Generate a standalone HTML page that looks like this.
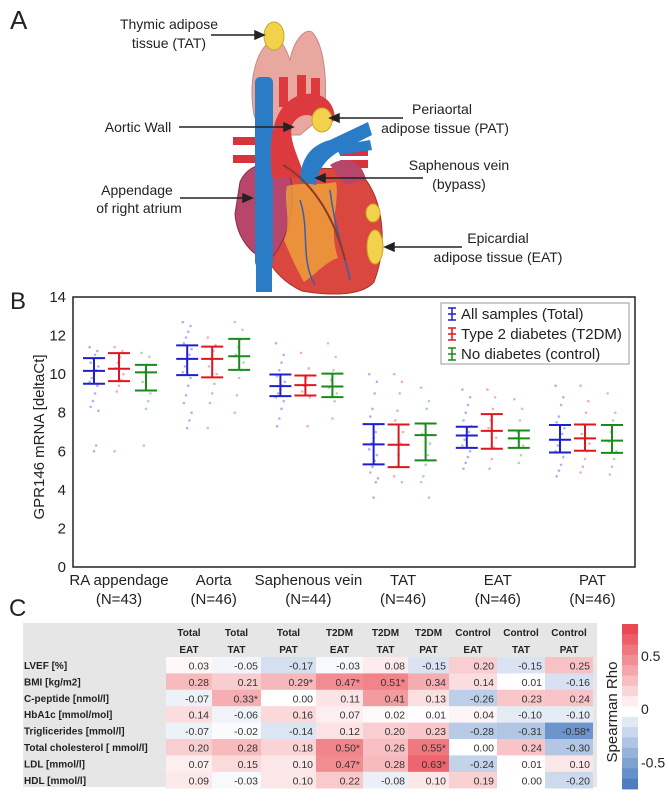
<!DOCTYPE html>
<html><head><meta charset="utf-8">
<style>
html,body{margin:0;padding:0;background:#fff;}
body{width:669px;height:804px;overflow:hidden;font-family:"Liberation Sans",Arial,sans-serif;}
svg{display:block;}
</style></head>
<body>
<svg id="fig" width="669" height="804" viewBox="0 0 669 804" xmlns="http://www.w3.org/2000/svg" font-family="Liberation Sans, Arial, sans-serif">
<!-- Panel A -->
<g>
  <text x="10" y="29" font-size="26" fill="#222">A</text>
  <path d="M254,115 C248,80 256,50 272,40 C282,35 288,55 290,60 C294,40 305,28 312,32 C324,45 328,80 324,115 L300,135 L262,135 Z" fill="#e8a8a0" stroke="#c98880" stroke-width="1"/>
  <rect x="233" y="137" width="30" height="8" fill="#d8323a"/>
  <rect x="233" y="155" width="30" height="8" fill="#d8323a"/>
  <rect x="340" y="148" width="28" height="8" fill="#d8323a"/>
  <rect x="340" y="160" width="28" height="8" fill="#d8323a"/>
  <path d="M258,185 C280,168 335,163 362,175 C384,200 388,245 374,282 C362,296 330,296 302,291 C280,281 266,262 258,240 Z" fill="#d9473f" stroke="#a9302c" stroke-width="1"/>
  <path d="M240,182 C250,158 282,160 291,180 C296,212 286,242 270,260 C254,258 237,240 235,214 Z" fill="#b8456a" stroke="#8a2c4a" stroke-width="1"/>
  <path d="M330,165 C345,155 362,160 366,180 L345,185 Z" fill="#b8456a"/>
  <path d="M287,186 C300,182 318,186 336,182 C340,200 328,230 338,258 C325,262 314,276 304,282 C296,268 288,250 284,240 C292,220 283,202 287,186 Z" fill="#f2a93b" opacity="0.75"/>
  <path d="M300,200 C310,230 300,260 315,285 M330,190 C335,230 345,255 350,280" stroke="#3a5fa8" stroke-width="1.5" fill="none"/>
  <rect x="255" y="77" width="18" height="190" rx="5" fill="#2a7cc7"/>
  <rect x="256" y="250" width="16" height="42" fill="#2a7cc7"/>
  <path d="M272,178 C268,140 272,105 300,95 C320,90 335,100 335,120 L322,130 C318,112 300,110 292,125 C288,140 300,160 305,178 Z" fill="#dc3a3e"/>
  <rect x="279" y="77" width="9" height="30" fill="#dc3a3e"/>
  <rect x="297" y="75" width="9" height="30" fill="#dc3a3e"/>
  <rect x="311" y="78" width="9" height="30" fill="#dc3a3e"/>
  <path d="M300,182 C300,160 310,145 330,140 L368,122 L372,135 L338,152 C325,160 318,170 316,185 Z" fill="#2a7cc7"/>
  <path d="M335,146 L370,140 L372,150 L340,155 Z" fill="#2a7cc7"/>
  <path d="M283,165 C300,175 330,200 345,260" stroke="#8a3a2a" stroke-width="2" fill="none"/>
  <ellipse cx="274" cy="36" rx="10" ry="14" fill="#f1d24a" stroke="#c9a820"/>
  <ellipse cx="322" cy="120" rx="10" ry="12" fill="#f1d24a" stroke="#c9a820"/>
  <ellipse cx="373" cy="213" rx="7" ry="9" fill="#f1d24a" stroke="#c9a820"/>
  <ellipse cx="375" cy="247" rx="8" ry="17" fill="#f1d24a" stroke="#c9a820"/>
  <g font-size="14" fill="#222" text-anchor="middle">
    <text x="169" y="29">Thymic adipose</text>
    <text x="169" y="48">tissue (TAT)</text>
    <text x="138" y="132">Aortic Wall</text>
    <text x="442" y="114">Periaortal</text>
    <text x="445" y="133">adipose tissue (PAT)</text>
    <text x="459" y="170">Saphenous vein</text>
    <text x="459" y="189">(bypass)</text>
    <text x="137" y="195">Appendage</text>
    <text x="139" y="213">of right atrium</text>
    <text x="498" y="243">Epicardial</text>
    <text x="498" y="262">adipose tissue (EAT)</text>
  </g>
  <g stroke="#222" stroke-width="1.5" fill="#222">
    <line x1="211" y1="35" x2="257" y2="35"/><polygon points="264,35 255,31 255,39"/>
    <line x1="179" y1="127" x2="286" y2="127"/><polygon points="293,127 284,123 284,131"/>
    <line x1="403" y1="118" x2="337" y2="118"/><polygon points="330,118 339,114 339,122"/>
    <line x1="423" y1="178" x2="323" y2="178"/><polygon points="316,178 325,174 325,182"/>
    <line x1="180" y1="198" x2="245" y2="198"/><polygon points="252,198 243,194 243,202"/>
    <line x1="462" y1="247" x2="392" y2="247"/><polygon points="385,247 394,243 394,251"/>
  </g>
</g>
<g id="panelB"></g>
<g id="panelC"></g>
</svg>
<script>
// ---------- Panel B data ----------
const categories = ["RA appendage","Aorta","Saphenous vein","TAT","EAT","PAT"];
const nLabels = ["(N=43)","(N=46)","(N=44)","(N=46)","(N=46)","(N=46)"];
const seriesNames = ["All samples (Total)","Type 2 diabetes (T2DM)","No diabetes (control)"];
const seriesColors = ["#1f1fd0","#e0161e","#1a8a1a"];
const totalMean  = [10.17,10.79,9.38,6.36,6.82,6.60];
const totalLow   = [9.50,9.95,8.86,5.32,6.18,5.94];
const totalHigh  = [10.83,11.49,9.98,7.41,7.27,7.36];
const t2dmMean   = [10.28,10.79,9.43,6.34,7.06,6.67];
const t2dmLow    = [9.64,9.83,8.89,5.18,6.13,6.03];
const t2dmHigh   = [11.09,11.43,9.93,7.39,7.93,7.39];
const ctrlMean   = [10.09,10.93,9.36,6.84,6.67,6.55];
const ctrlLow    = [9.15,10.22,8.81,5.53,6.18,5.92];
const ctrlHigh   = [10.48,11.83,10.03,7.44,7.08,7.36];
const totalPoints = [
 [11.4,11.2,11.0,10.8,10.6,10.4,10.2,10.0,9.8,9.6,9.4,9.0,8.6,8.3,8.1,6.3,6.0],
 [12.7,12.5,12.2,11.9,11.6,11.3,11.0,10.7,10.4,10.1,9.8,9.4,8.9,8.5,8.0,7.6,7.2],
 [11.6,11.0,10.6,10.2,9.9,9.6,9.4,9.2,9.0,8.8,8.6,8.2,7.7,7.3],
 [10.0,9.6,9.0,8.2,7.8,7.4,7.0,6.7,6.4,6.1,5.8,5.5,5.2,4.9,4.6,4.4,3.6],
 [9.2,8.8,8.4,8.0,7.6,7.3,7.0,6.8,6.6,6.3,6.0,5.7,5.4,5.1],
 [9.4,8.8,8.4,7.8,7.5,7.2,6.9,6.6,6.3,6.0,5.7,5.3,5.0,4.7]
];
const t2dmPoints = [
 [11.4,11.2,10.9,10.6,10.3,10.0,9.7,9.4,9.1,6.0],
 [11.9,11.5,11.2,10.8,10.4,10.0,9.5,9.0,8.5,7.2],
 [11.1,10.3,9.8,9.4,9.1,8.8,7.3],
 [10.0,9.6,9.0,8.1,7.6,7.0,6.4,5.8,5.2,4.7,4.4],
 [9.2,8.8,8.2,7.6,7.2,6.7,6.2,5.6,5.1],
 [9.4,8.6,8.0,7.4,6.9,6.4,6.0,5.6,5.2,4.9]
];
const ctrlPoints = [
 [11.1,10.9,10.5,10.1,9.6,9.0,8.6,8.2,6.3],
 [12.7,12.3,11.8,11.4,11.0,10.6,10.2,9.8,8.9,8.0],
 [11.6,10.9,10.2,9.7,9.3,9.0,8.6,7.7],
 [9.3,8.6,8.2,7.4,6.9,6.4,5.8,5.3,4.7,4.4,3.6],
 [8.7,8.2,7.6,7.0,6.7,6.3,5.8,5.4],
 [9.0,8.0,7.6,7.0,6.5,6.0,5.6,5.2,4.8]
];
const yTicks = [0,2,4,6,8,10,12,14];

// ---------- Panel C data ----------
const hmCols1 = ["Total","Total","Total","T2DM","T2DM","T2DM","Control","Control","Control"];
const hmCols2 = ["EAT","TAT","PAT","EAT","TAT","PAT","EAT","TAT","PAT"];
const hmRows = ["LVEF [%]","BMI [kg/m2]","C-peptide [nmol/l]","HbA1c [mmol/mol]","Triglicerides [mmol/l]","Total cholesterol [ mmol/l]","LDL [mmol/l]","HDL [mmol/l]"];
const rhoLVEF = [0.03,-0.05,-0.17,-0.03,0.08,-0.15,0.20,-0.15,0.25];
const rhoBMI = [0.28,0.21,0.29,0.47,0.51,0.34,0.14,0.01,-0.16];
const rhoCpep = [-0.07,0.33,0.00,0.11,0.41,0.13,-0.26,0.23,0.24];
const rhoHbA1c = [0.14,-0.06,0.16,0.07,0.02,0.01,0.04,-0.10,-0.10];
const rhoTrig = [-0.07,-0.02,-0.14,0.12,0.20,0.23,-0.28,-0.31,-0.58];
const rhoTChol = [0.20,0.28,0.18,0.50,0.26,0.55,0.00,0.24,-0.30];
const rhoLDL = [0.07,0.15,0.10,0.47,0.28,0.63,-0.24,0.01,0.10];
const rhoHDL = [0.09,-0.03,0.10,0.22,-0.08,0.10,0.19,0.00,-0.20];
const sigLVEF = [0,0,0,0,0,0,0,0,0];
const sigBMI = [0,0,1,1,1,0,0,0,0];
const sigCpep = [0,1,0,0,0,0,0,0,0];
const sigHbA1c = [0,0,0,0,0,0,0,0,0];
const sigTrig = [0,0,0,0,0,0,0,0,1];
const sigTChol = [0,0,0,1,0,1,0,0,0];
const sigLDL = [0,0,0,1,0,1,0,0,0];
const sigHDL = [0,0,0,0,0,0,0,0,0];
const colorbarTicks = [0.5,0,-0.5];

const NS = "http://www.w3.org/2000/svg";
function mk(tag, attrs, parent){ const e=document.createElementNS(NS,tag); for(const k in attrs) e.setAttribute(k,attrs[k]); parent.appendChild(e); return e; }

// ---------- Panel B ----------
(function(){
const g = document.getElementById("panelB");
const L=73, R=635, T=297, B=567, yMax=14;
const y = v => B - (v/yMax)*(B-T);
const xCenter = i => 119 + i*93.2;
const offs = [-25,0,27];
const t = mk("text",{x:10,y:309,"font-size":24,fill:"#222"},g); t.textContent="B";


yTicks.forEach(v=>{
  const tx=mk("text",{x:66,y:y(v)+5,"font-size":15,"text-anchor":"end",fill:"#222"},g); tx.textContent=v;
  
  
});
const yt=mk("text",{x:0,y:0,"font-size":15,"text-anchor":"middle",fill:"#222",transform:"translate(44,437) rotate(-90)"},g);
yt.textContent="GPR146 mRNA [deltaCt]";


categories.forEach((c,i)=>{
  const a=mk("text",{x:xCenter(i)+i*1.5,y:585,"font-size":15,"text-anchor":"middle",fill:"#222"},g); a.textContent=c;
  
  
  const b=mk("text",{x:xCenter(i)+i*1.5,y:604,"font-size":15,"text-anchor":"middle",fill:"#222"},g); b.textContent=nLabels[i];
  
  
});
const means=[totalMean,t2dmMean,ctrlMean], lows=[totalLow,t2dmLow,ctrlLow], highs=[totalHigh,t2dmHigh,ctrlHigh], pts=[totalPoints,t2dmPoints,ctrlPoints];
for(let s=0;s<3;s++){
  for(let i=0;i<categories.length;i++){
    const cx=xCenter(i)+offs[s];
    pts[s][i].forEach((v,k)=>{
      const jx = ((k*7)%9 - 4)*1.1;
      const p=mk("circle",{cx:cx+jx,cy:y(v),r:1.3,fill:seriesColors[s],opacity:0.35},g);
      
      
    });
    const eg=mk("g",{stroke:seriesColors[s],"stroke-width":2},g);
    
    
    mk("line",{x1:cx,x2:cx,y1:y(lows[s][i]),y2:y(highs[s][i])},eg);
    mk("line",{x1:cx-11,x2:cx+11,y1:y(lows[s][i]),y2:y(lows[s][i])},eg);
    mk("line",{x1:cx-11,x2:cx+11,y1:y(highs[s][i]),y2:y(highs[s][i])},eg);
    mk("line",{x1:cx-11,x2:cx+11,y1:y(means[s][i]),y2:y(means[s][i])},eg);
  }
}
const fr=mk("rect",{x:L,y:T,width:R-L,height:B-T,fill:"none",stroke:"#222","stroke-width":1.5},g);


const lg=mk("g",{},g);


mk("rect",{x:441,y:303,width:188,height:61,fill:"#fff",stroke:"#999","stroke-width":1},lg);
seriesNames.forEach((n,k)=>{
  const yy=314+k*20;
  const e=mk("g",{stroke:seriesColors[k],"stroke-width":1.5},lg);
  
  
  mk("line",{x1:452,x2:452,y1:yy-6,y2:yy+6},e);
  mk("line",{x1:448,x2:456,y1:yy-6,y2:yy-6},e);
  mk("line",{x1:448,x2:456,y1:yy+6,y2:yy+6},e);
  mk("line",{x1:448,x2:456,y1:yy,y2:yy},e);
  const tx=mk("text",{x:461,y:yy+5,"font-size":15,fill:"#222"},lg); tx.textContent=n;
  
  
});
})();

// ---------- Panel C ----------
(function(){
const g=document.getElementById("panelC");
const rho=[rhoLVEF,rhoBMI,rhoCpep,rhoHbA1c,rhoTrig,rhoTChol,rhoLDL,rhoHDL];
const sig=[sigLVEF,sigBMI,sigCpep,sigHbA1c,sigTrig,sigTChol,sigLDL,sigHDL];
const edges=[166,212,261,316,363,408,449,497,545,593];
const top=657, rh=16.4;
function col(v){
  const m=Math.min(Math.abs(v)/0.75,1);
  const c = v>=0 ? [234,72,82] : [66,116,188];
  const r=Math.round(255+(c[0]-255)*m), gg=Math.round(255+(c[1]-255)*m), b=Math.round(255+(c[2]-255)*m);
  return `rgb(${r},${gg},${b})`;
}
const c=mk("text",{x:9,y:616,"font-size":24,fill:"#222"},g); c.textContent="C";


const bg=mk("rect",{x:23,y:623,width:574,height:164,fill:"#e6e6e6"},g);


hmCols1.forEach((h,j)=>{
  const cx=(edges[j]+edges[j+1])/2;
  const a=mk("text",{x:cx,y:636,"font-size":10,"font-weight":"bold","text-anchor":"middle",fill:"#222"},g); a.textContent=h;
  
  
  const b=mk("text",{x:cx,y:653,"font-size":10,"font-weight":"bold","text-anchor":"middle",fill:"#222"},g); b.textContent=hmCols2[j];
  
  
});
hmRows.forEach((r,i)=>{
  const yy=top+i*rh;
  const l=mk("text",{x:24,y:yy+12,"font-size":10,"font-weight":"bold",fill:"#222"},g); l.textContent=r;
  
  
  rho[i].forEach((v,j)=>{
    const cell=mk("rect",{x:edges[j],y:yy,width:edges[j+1]-edges[j],height:rh+0.3,fill:col(v)},g);
    
    
    const t=mk("text",{x:edges[j+1]-3,y:yy+12.5,"font-size":10.5,"text-anchor":"end",fill:"#333"},g);
    t.textContent=v.toFixed(2)+(sig[i][j]?"*":"");
    
    
  });
});
const cbTop=624, cbBot=789, vTop=0.8, vBot=-0.75, n=16;
const cy=v=>cbTop+(vTop-v)/(vTop-vBot)*(cbBot-cbTop);
for(let k=0;k<n;k++){
  const v1=vTop-(vTop-vBot)*k/n, v2=vTop-(vTop-vBot)*(k+1)/n;
  const mid=(v1+v2)/2;
  const b=mk("rect",{x:622,y:cy(v1),width:16,height:cy(v2)-cy(v1)+0.4,fill:col(Math.abs(mid)<0.06?0:mid)},g);
  
  
}
colorbarTicks.forEach(v=>{
  const t=mk("text",{x:641,y:cy(v)+5,"font-size":14,fill:"#222"},g); t.textContent=String(v);
  
  
});
const st=mk("text",{x:0,y:0,"font-size":15,"text-anchor":"middle",fill:"#222",transform:"translate(617,712) rotate(-90)"},g);
st.textContent="Spearman Rho";


})();
</script>
</body></html>
